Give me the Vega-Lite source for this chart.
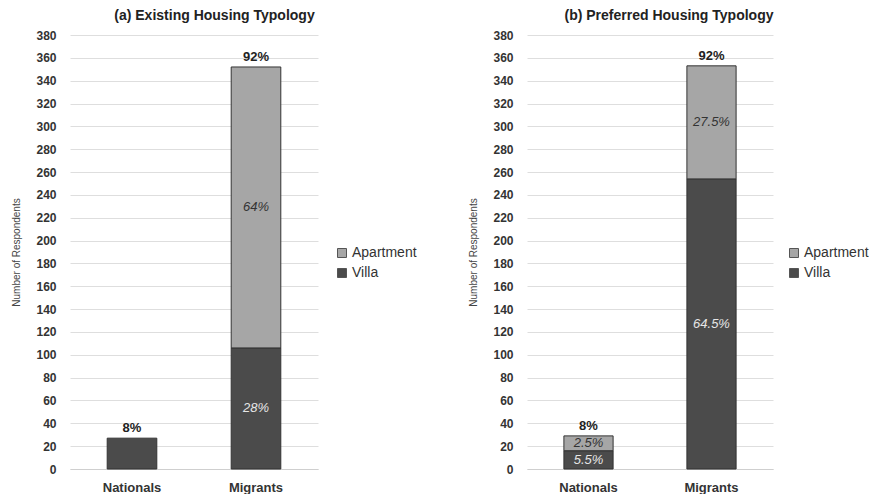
{
  "$schema": "https://vega.github.io/schema/vega-lite/v6.json",
  "background": "white",
  "padding": {"left": 11, "top": 9, "right": 0, "bottom": 0},
  "datasets": {
    "existing": [
      {"group": "Nationals", "type": "Villa", "value": 27, "pct": "", "total": "8%"},
      {"group": "Migrants", "type": "Villa", "value": 106, "pct": "28%", "total": "92%"},
      {"group": "Migrants", "type": "Apartment", "value": 246, "pct": "64%", "total": "92%"}
    ],
    "preferred": [
      {"group": "Nationals", "type": "Villa", "value": 16, "pct": "5.5%", "total": "8%"},
      {"group": "Nationals", "type": "Apartment", "value": 13, "pct": "2.5%", "total": "8%"},
      {"group": "Migrants", "type": "Villa", "value": 254, "pct": "64.5%", "total": "92%"},
      {"group": "Migrants", "type": "Apartment", "value": 99, "pct": "27.5%", "total": "92%"}
    ]
  },
  "config": {
    "font": "Liberation Sans",
    "view": {"stroke": null},
    "title": {"fontSize": 14, "fontWeight": "bold", "color": "#222", "frame": "bounds", "anchor": "middle", "offset": 6},
    "axisY": {"domain": false, "ticks": false, "gridColor": "#dedede", "labelFontWeight": "bold", "labelFontSize": 12, "labelColor": "#333", "labelPadding": 14, "labelOverlap": false, "titleFontSize": 10, "titleFontWeight": "normal", "titleColor": "#444", "titlePadding": 14},
    "axisX": {"domain": true, "domainColor": "#cfcfcf", "ticks": false, "labelFontWeight": "bold", "labelFontSize": 13, "labelColor": "#333", "labelPadding": 12, "labelAngle": 0},
    "legend": {"labelFontSize": 14, "labelColor": "#333", "symbolType": "square", "symbolSize": 81, "symbolStrokeColor": "#555", "symbolStrokeWidth": 1, "rowPadding": 6, "labelOffset": 3}
  },
  "spacing": 51,
  "resolve": {"legend": {"color": "independent"}},
  "hconcat": [
    {
      "title": "(a) Existing Housing Typology",
      "width": 248,
      "height": 434,
      "data": {"name": "existing"},
      "transform": [{"stack": "value", "groupby": ["group"], "as": ["v0", "v1"], "sort": [{"field": "type", "order": "descending"}]}],
      "encoding": {
        "x": {"field": "group", "type": "nominal", "sort": ["Nationals", "Migrants"], "scale": {"paddingInner": 0.6, "paddingOuter": 0.3}, "axis": {"title": null}}
      },
      "layer": [
        {
          "mark": {"type": "bar", "stroke": "#333", "strokeWidth": 1},
          "encoding": {
            "y": {"field": "v0", "type": "quantitative", "scale": {"domain": [0, 380], "nice": false}, "axis": {"title": "Number of Respondents", "labelOverlap": false, "values": [0,20,40,60,80,100,120,140,160,180,200,220,240,260,280,300,320,340,360,380]}},
            "y2": {"field": "v1"},
            "color": {"field": "type", "type": "nominal", "scale": {"domain": ["Apartment", "Villa"], "range": ["#a6a6a6", "#4b4b4b"]}, "legend": {"title": null, "orient": "none", "legendX": 265, "legendY": 211}}
          }
        },
        {
          "transform": [{"fold": ["v0", "v1"], "as": ["edge", "pos"]}],
          "mark": {"type": "text", "fontStyle": "italic", "fontSize": 13},
          "encoding": {
            "y": {"aggregate": "mean", "field": "pos", "type": "quantitative", "axis": {"title": "Number of Respondents", "labelOverlap": false, "values": [0,20,40,60,80,100,120,140,160,180,200,220,240,260,280,300,320,340,360,380]}},
            "detail": {"field": "type"},
            "text": {"field": "pct"},
            "color": {"condition": {"test": "datum.type === 'Villa'", "value": "#e6e6e6"}, "value": "#333"}
          }
        },
        {
          "mark": {"type": "text", "fontWeight": "bold", "fontSize": 13, "dy": -10, "color": "#222"},
          "encoding": {
            "y": {"aggregate": "sum", "field": "value", "type": "quantitative", "axis": {"title": "Number of Respondents", "labelOverlap": false, "values": [0,20,40,60,80,100,120,140,160,180,200,220,240,260,280,300,320,340,360,380]}},
            "text": {"field": "total"}
          }
        }
      ]
    },
    {
      "title": "(b) Preferred Housing Typology",
      "width": 246,
      "height": 434,
      "data": {"name": "preferred"},
      "transform": [{"stack": "value", "groupby": ["group"], "as": ["v0", "v1"], "sort": [{"field": "type", "order": "descending"}]}],
      "encoding": {
        "x": {"field": "group", "type": "nominal", "sort": ["Nationals", "Migrants"], "scale": {"paddingInner": 0.6, "paddingOuter": 0.3}, "axis": {"title": null}}
      },
      "layer": [
        {
          "mark": {"type": "bar", "stroke": "#333", "strokeWidth": 1},
          "encoding": {
            "y": {"field": "v0", "type": "quantitative", "scale": {"domain": [0, 380], "nice": false}, "axis": {"title": "Number of Respondents", "labelOverlap": false, "values": [0,20,40,60,80,100,120,140,160,180,200,220,240,260,280,300,320,340,360,380]}},
            "y2": {"field": "v1"},
            "color": {"field": "type", "type": "nominal", "scale": {"domain": ["Apartment", "Villa"], "range": ["#a6a6a6", "#4b4b4b"]}, "legend": {"title": null, "orient": "none", "legendX": 260, "legendY": 211}}
          }
        },
        {
          "transform": [{"fold": ["v0", "v1"], "as": ["edge", "pos"]}],
          "mark": {"type": "text", "fontStyle": "italic", "fontSize": 13},
          "encoding": {
            "y": {"aggregate": "mean", "field": "pos", "type": "quantitative", "axis": {"title": "Number of Respondents", "labelOverlap": false, "values": [0,20,40,60,80,100,120,140,160,180,200,220,240,260,280,300,320,340,360,380]}},
            "detail": {"field": "type"},
            "text": {"field": "pct"},
            "color": {"condition": {"test": "datum.type === 'Villa'", "value": "#e6e6e6"}, "value": "#333"}
          }
        },
        {
          "mark": {"type": "text", "fontWeight": "bold", "fontSize": 13, "dy": -10, "color": "#222"},
          "encoding": {
            "y": {"aggregate": "sum", "field": "value", "type": "quantitative", "axis": {"title": "Number of Respondents", "labelOverlap": false, "values": [0,20,40,60,80,100,120,140,160,180,200,220,240,260,280,300,320,340,360,380]}},
            "text": {"field": "total"}
          }
        }
      ]
    }
  ]
}
